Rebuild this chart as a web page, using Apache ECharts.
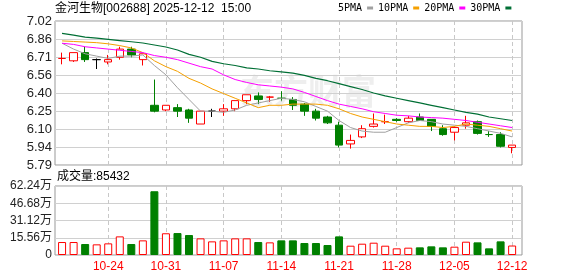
<!DOCTYPE html>
<html><head><meta charset="utf-8">
<script src="https://cdn.jsdelivr.net/npm/echarts@6/dist/echarts.min.js"></script>
<style>html,body{margin:0;padding:0;background:#fff}#c{width:578px;height:276px}</style>
</head><body><div id="c"></div>
<script>
const dates = ['10-20','10-21','10-22','10-23','10-24','10-27','10-28','10-29','10-30','10-31',
  '11-03','11-04','11-05','11-06','11-07','11-10','11-11','11-12','11-13','11-14',
  '11-17','11-18','11-19','11-20','11-21','11-24','11-25','11-26','11-27','11-28',
  '12-01','12-02','12-03','12-04','12-05','12-08','12-09','12-10','12-11','12-12'];
const labelDates = ['10-24','10-31','11-07','11-14','11-21','11-28','12-05','12-12'];
const opens  = [6.70,6.68,6.75,6.69,6.67,6.71,6.78,6.69,6.30,6.26,6.28,6.26,6.14,6.25,6.25,6.27,6.34,6.38,6.37,6.36,
                6.35,6.31,6.25,6.20,6.13,5.97,6.03,6.12,6.16,6.18,6.16,6.20,6.18,6.10,6.07,6.13,6.16,6.05,6.05,5.94];
const closes = [6.70,6.75,6.69,6.69,6.69,6.78,6.73,6.74,6.25,6.30,6.25,6.19,6.25,6.25,6.27,6.34,6.39,6.35,6.37,6.36,
                6.30,6.25,6.19,6.15,5.96,6.00,6.10,6.14,6.16,6.17,6.19,6.17,6.12,6.05,6.11,6.15,6.06,6.05,5.95,5.96];
const lows   = [6.65,6.67,6.67,6.61,6.65,6.69,6.71,6.64,6.24,6.25,6.20,6.15,6.14,6.20,6.21,6.25,6.31,6.31,6.33,6.34,
                6.26,6.21,6.17,6.14,5.94,5.93,6.02,6.11,6.14,6.16,6.15,6.17,6.08,6.04,6.00,6.10,6.05,6.03,5.94,5.89];
const highs  = [6.75,6.75,6.80,6.70,6.73,6.80,6.80,6.74,6.52,6.30,6.31,6.27,6.25,6.27,6.31,6.34,6.39,6.41,6.38,6.42,
                6.37,6.32,6.27,6.21,6.16,6.05,6.13,6.23,6.22,6.19,6.21,6.23,6.18,6.13,6.12,6.21,6.17,6.08,6.07,5.96];
const volumes = [117000,117000,99000,96000,105000,168000,99000,132000,575000,196000,
                 198000,180000,150000,123000,132000,150000,150000,117000,114000,132000,
                 132000,108000,108000,90000,168000,84000,102000,111000,84000,60000,
                 66000,69000,78000,69000,75000,120000,114000,60000,123000,85432];
const ma5  = [6.83,6.78,6.74,6.72,6.70,6.72,6.72,6.73,6.64,6.56,6.45,6.35,6.25,6.25,6.24,6.26,6.30,6.32,6.34,6.36,
              6.35,6.33,6.29,6.25,6.17,6.11,6.08,6.07,6.07,6.11,6.15,6.17,6.16,6.14,6.13,6.12,6.10,6.08,6.06,6.03];
const ma10 = [6.85,6.845,6.84,6.835,6.825,6.81,6.79,6.75,6.68,6.63,6.59,6.53,6.49,6.44,6.40,6.36,6.32,6.28,6.30,6.30,
              6.31,6.31,6.31,6.30,6.27,6.23,6.20,6.18,6.16,6.14,6.13,6.12,6.12,6.11,6.12,6.14,6.13,6.12,6.10,6.08];
const ma20 = [6.83,6.82,6.80,6.79,6.78,6.77,6.76,6.75,6.725,6.71,6.69,6.66,6.63,6.61,6.56,6.52,6.495,6.475,6.465,6.455,
              6.44,6.41,6.375,6.34,6.31,6.29,6.27,6.245,6.23,6.215,6.21,6.20,6.195,6.19,6.18,6.17,6.155,6.14,6.125,6.11];
const ma30 = [6.915,6.90,6.883,6.873,6.863,6.853,6.843,6.832,6.815,6.798,6.772,6.735,6.71,6.675,6.655,6.64,6.62,6.61,6.595,6.585,
              6.575,6.555,6.53,6.51,6.485,6.46,6.435,6.405,6.38,6.36,6.34,6.32,6.30,6.28,6.26,6.24,6.225,6.20,6.185,6.17];
const priceTicks = ['5.79','5.94','6.10','6.25','6.40','6.56','6.71','6.86','7.02'];
const priceMin = 5.79, priceMax = 7.02;
const volMax = 622400;
const volTickCount = 4;

const RED = '#ff0000', GREEN = '#008000';
const candleData = opens.map((o, i) => {
  const c = closes[i];
  const item = { value: [o, c, lows[i], highs[i]] };
  if (o === c && i > 0 && c === closes[i - 1]) {
    item.itemStyle = { color: '#000', color0: '#000', borderColor: '#000', borderColor0: '#000' };
  }
  return item;
});
const volData = volumes.map((v, i) => {
  const up = i === 0 || closes[i] >= closes[i - 1];
  return { value: v, itemStyle: up ? { color: '#fff', borderColor: RED, borderWidth: 1 } : { color: GREEN, borderColor: GREEN, borderWidth: 1 } };
});

const FONT = 'Liberation Sans, Arial, Noto Sans CJK SC, sans-serif';
const showDate = (i, v) => labelDates.indexOf(v) >= 0;
const dashed = { show: true, alignWithLabel: true, interval: showDate, lineStyle: { color: '#c8c8c8', type: [4, 3], width: 1 } };
const chart = echarts.init(document.getElementById('c'), null, { renderer: 'canvas' });
chart.setOption({
  animation: false,
  backgroundColor: '#fff',
  title: { text: '金河生物[002688] 2025-12-12  15:00', left: 55, top: 3, padding: 0,
    textStyle: { fontSize: 12, fontWeight: 'normal', color: '#000', fontFamily: FONT } },
  legend: { left: 338, top: 3, padding: 0, align: 'right', icon: 'rect', itemWidth: 6, itemHeight: 3, itemGap: 5,
    textStyle: { fontSize: 10, color: '#000', fontFamily: 'DejaVu Sans Mono, Liberation Mono, monospace' },
    data: ['5PMA', '10PMA', '20PMA', '30PMA'] },
  graphic: [
    { type: 'text', left: 57, top: 171, style: { text: '成交量:' + volumes[volumes.length - 1], fontSize: 12, fill: '#000', fontFamily: FONT } },
    { type: 'text', left: 240, top: 74, z: -10, style: { text: '东方财富', fontSize: 34, fontWeight: 'bold', fill: '#eeeeee', fontFamily: 'Noto Sans CJK SC' } }
  ],
  grid: [
    { left: 56.3, top: 21, width: 461.6, height: 144 },
    { left: 56.3, top: 186, width: 461.6, height: 69 },
    { left: 55, top: 21, width: 467, height: 144, show: true, borderColor: '#999', borderWidth: 1, backgroundColor: 'transparent' },
    { left: 55, top: 186, width: 467, height: 69, show: true, borderColor: '#999', borderWidth: 1, backgroundColor: 'transparent' }
  ],
  xAxis: [
    { type: 'category', gridIndex: 0, data: dates, boundaryGap: true, axisLine: { show: false }, axisTick: { show: false }, axisLabel: { show: false }, splitLine: dashed },
    { type: 'category', gridIndex: 1, data: dates, boundaryGap: true, axisLine: { show: false }, axisTick: { show: false },
      axisLabel: { show: true, interval: showDate, color: RED, fontSize: 12, margin: 6, fontFamily: FONT }, splitLine: dashed },
    { type: 'value', gridIndex: 2, min: 0, max: 1, show: false },
    { type: 'value', gridIndex: 3, min: 0, max: 1, show: false }
  ],
  yAxis: [
    { type: 'value', gridIndex: 0, min: priceMin, max: priceMax, show: false },
    { type: 'value', gridIndex: 1, min: 0, max: volMax, show: false },
    { type: 'value', gridIndex: 2, min: 0, max: priceTicks.length - 1, interval: 1, axisLine: { show: false }, axisTick: { show: false },
      axisLabel: { formatter: v => priceTicks[v], fontSize: 13, color: '#222', margin: 3, fontFamily: FONT },
      splitLine: { lineStyle: { color: '#d0d0d0', width: 1 } } },
    { type: 'value', gridIndex: 3, min: 0, max: volMax, interval: volMax / volTickCount, axisLine: { show: false }, axisTick: { show: false },
      axisLabel: { formatter: v => v === 0 ? '0' : (v / 10000).toFixed(2) + '万', fontSize: 12, color: '#222', margin: 3, fontFamily: FONT },
      splitLine: { lineStyle: { color: '#d0d0d0', width: 1 } } }
  ],
  series: [
    { type: 'candlestick', xAxisIndex: 0, yAxisIndex: 0, data: candleData, barWidth: 8,
      itemStyle: { color: '#fff', color0: GREEN, borderColor: RED, borderColor0: GREEN, borderWidth: 1 } },
    { name: '5PMA', type: 'line', xAxisIndex: 0, yAxisIndex: 0, data: ma5, symbol: 'none', color: '#a0a0a0', lineStyle: { width: 1, color: '#a0a0a0' } },
    { name: '10PMA', type: 'line', xAxisIndex: 0, yAxisIndex: 0, data: ma10, symbol: 'none', color: '#f5a000', lineStyle: { width: 1, color: '#f5a000' } },
    { name: '20PMA', type: 'line', xAxisIndex: 0, yAxisIndex: 0, data: ma20, symbol: 'none', color: '#ff00ff', lineStyle: { width: 1, color: '#ff00ff' } },
    { name: '30PMA', type: 'line', xAxisIndex: 0, yAxisIndex: 0, data: ma30, symbol: 'none', color: '#006f35', lineStyle: { width: 1.2, color: '#006f35' } },
    { type: 'bar', xAxisIndex: 1, yAxisIndex: 1, data: volData, barWidth: 8 }
  ]
});
</script></body></html>
